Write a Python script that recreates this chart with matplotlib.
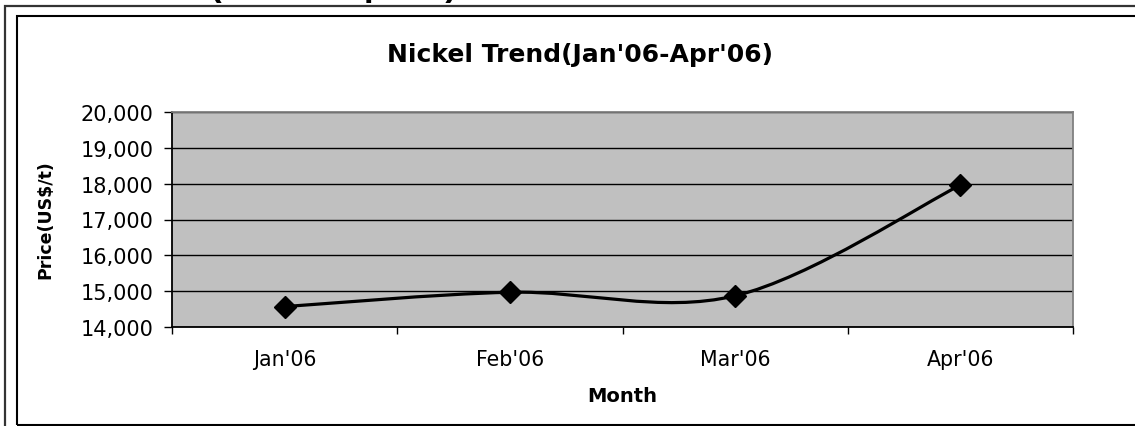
import numpy as np
import matplotlib
matplotlib.use("Agg")
import matplotlib.pyplot as plt
from matplotlib.path import Path
from matplotlib.patches import PathPatch, Rectangle
from matplotlib.ticker import FuncFormatter, FixedLocator

# Monthly nickel prices (US$/t)
months = ["Jan'06", "Feb'06", "Mar'06", "Apr'06"]
prices = [14570, 14970, 14870, 17960]
y_ticks = [14000, 15000, 16000, 17000, 18000, 19000, 20000]

title = "Nickel Trend(Jan'06-Apr'06)"
x_label = "Month"
y_label = "Price(US$/t)"
header = "(Jan'06-Apr'06)"

W, H = 1135, 427
fig = plt.figure(figsize=(W / 100, H / 100), dpi=100)
fig.patch.set_facecolor("white")

def fx(px):
    return px / W

def fy(py):
    return 1 - py / H

# Page frames around the chart
fig.patches.append(Rectangle((fx(5), fy(440)), fx(1200) - fx(5), fy(7) - fy(440),
                             transform=fig.transFigure, fill=False,
                             edgecolor="#333333", linewidth=1.6))
fig.patches.append(Rectangle((fx(17), fy(426)), fx(1200) - fx(17), fy(17) - fy(426),
                             transform=fig.transFigure, fill=False,
                             edgecolor="black", linewidth=1.5))

# Heading text above, mostly cut off by the page edge
fig.text(fx(209), fy(-4), header, ha="left", va="baseline",
         fontsize=25, fontweight="bold", family="Liberation Sans")

ax = fig.add_axes([fx(172), fy(328), fx(1073) - fx(172), fy(113) - fy(328)])
ax.set_facecolor("#C0C0C0")

x = np.arange(len(months))
ax.set_xlim(-0.5, len(months) - 0.5)
ax.set_ylim(y_ticks[0], y_ticks[-1])

# Smoothed line through the points (cubic Bezier, Catmull-Rom style controls)
pts = np.column_stack([x, prices]).astype(float)
ext = np.vstack([pts[0], pts, pts[-1]])
verts = [tuple(pts[0])]
codes = [Path.MOVETO]
for i in range(len(pts) - 1):
    p0, p1, p2, p3 = ext[i], ext[i + 1], ext[i + 2], ext[i + 3]
    c1 = p1 + (p2 - p0) / 6.0
    c2 = p2 - (p3 - p1) / 6.0
    verts += [tuple(c1), tuple(c2), tuple(p2)]
    codes += [Path.CURVE4] * 3
ax.add_patch(PathPatch(Path(verts, codes), facecolor="none",
                       edgecolor="black", linewidth=2.3, zorder=3,
                       capstyle="round", joinstyle="round"))
ax.plot(x, prices, linestyle="none", marker="D", markersize=11,
        color="black", zorder=4)

# Gridlines
ax.yaxis.grid(True, color="black", linewidth=1.0)
ax.set_axisbelow(True)

# Axes styling
ax.set_yticks(y_ticks)
ax.yaxis.set_major_formatter(FuncFormatter(lambda v, p: f"{int(v):,}"))
ax.tick_params(axis="y", direction="out", length=5.5, width=1.0,
               labelsize=15, pad=8, colors="black")

ax.xaxis.set_major_locator(FixedLocator(np.arange(-0.5, len(months), 1.0)))
ax.xaxis.set_major_formatter(FuncFormatter(lambda v, p: ""))
ax.set_xticks(x, minor=True)
ax.set_xticklabels(months, minor=True)
ax.tick_params(axis="x", which="major", direction="out", length=5, width=1.0)
ax.tick_params(axis="x", which="minor", length=0, labelsize=14.8, pad=16)

for side in ("left", "bottom"):
    ax.spines[side].set_color("black")
    ax.spines[side].set_linewidth(1.3)
for side in ("right", "top"):
    ax.spines[side].set_color("#808080")
    ax.spines[side].set_linewidth(1.3)

fig.text(fx(580), fy(55), title, ha="center", va="center",
         fontsize=18, fontweight="bold")
ax.set_xlabel(x_label, fontsize=14, fontweight="bold", labelpad=12)
ax.set_ylabel(y_label, fontsize=12.5, fontweight="bold")
ax.yaxis.set_label_coords((54 - 172) / (1073 - 172), (328 - 220) / (328 - 113))

fig.savefig("out.png", dpi=100)
